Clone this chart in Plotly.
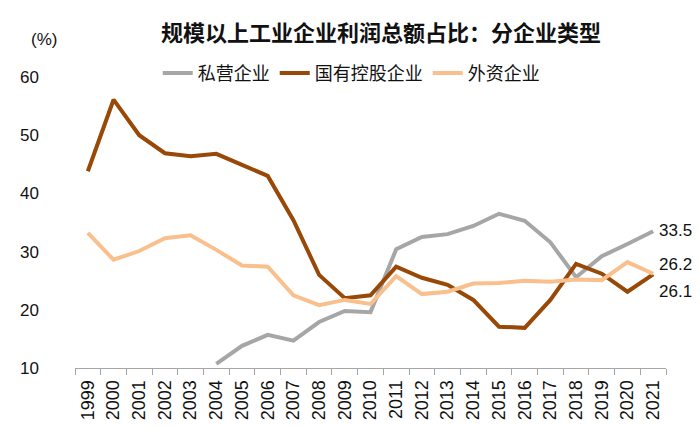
import plotly.graph_objects as go

years = [str(y) for y in range(1999, 2022)]
private = [None, None, None, None, None, 10.7, 13.8, 15.7, 14.7, 17.9, 19.8, 19.6,
           30.4, 32.5, 33.0, 34.4, 36.5, 35.3, 31.6, 25.6, 29.2, 31.3, 33.5]
state = [43.8, 56.1, 50.0, 46.9, 46.4, 46.8, 44.9, 43.0, 35.4, 26.0, 22.0, 22.5,
         27.4, 25.5, 24.3, 21.7, 17.1, 16.9, 21.7, 27.9, 26.2, 23.1, 26.1]
foreign = [33.2, 28.6, 30.1, 32.3, 32.8, 30.3, 27.6, 27.4, 22.5, 20.8, 21.7, 21.0,
           25.8, 22.7, 23.1, 24.5, 24.6, 25.0, 24.8, 25.2, 25.1, 28.2, 26.2]
names = ["私营企业", "国有控股企业", "外资企业"]
colors = ["#A6A6A6", "#984807", "#F9C08E"]
title = "规模以上工业企业利润总额占比：分企业类型"

fig = go.Figure()
for name, vals, col in zip(names, [private, state, foreign], colors):
    fig.add_trace(go.Scatter(x=years, y=vals, name=name, mode="lines",
                             line=dict(color=col, width=4), connectgaps=False))

# end labels
for val, ys in [(private[-1], 1), (foreign[-1], 9), (state[-1], -17)]:
    fig.add_annotation(xref="paper", yref="y", x=0.985, y=val, text=f"{val:.1f}",
                       showarrow=False, xanchor="left", yanchor="middle", yshift=ys,
                       font=dict(size=17, color="#111"))

fig.add_annotation(xref="paper", yref="paper", x=-0.053, y=1.129, text="(%)", showarrow=False,
                   xanchor="center", yanchor="middle", font=dict(size=17, color="#111"))

fig.update_layout(
    width=700, height=428,
    margin=dict(l=67, r=42, t=69, b=68),
    paper_bgcolor="white", plot_bgcolor="white",
    font=dict(family="Liberation Sans, Arial, Noto Sans CJK SC", color="#111"),
    title=dict(text=f"<b>{title}</b>", x=0.533, xanchor="center", y=0.942, yanchor="middle",
               font=dict(size=22, family="Noto Sans CJK SC, Liberation Sans", color="#111")),
    legend=dict(orientation="h", x=0.14, xanchor="left", y=1.013, yanchor="middle",
                font=dict(size=18, family="Noto Sans CJK SC, Liberation Sans"),
                bgcolor="rgba(0,0,0,0)", itemwidth=30, tracegroupgap=0),
    showlegend=True,
)
fig.update_xaxes(type="category", tickson="boundaries", ticks="outside", ticklen=6,
                 tickcolor="#A6A6A6", showline=True, linecolor="#A6A6A6", linewidth=1,
                 showgrid=False, tickangle=-90, tickfont=dict(size=18), ticklabelstandoff=4,
                 range=[-0.5, 22.5])
fig.update_yaxes(range=[10, 60], dtick=10, showgrid=False, showline=False, zeroline=False,
                 ticks="", ticklabelstandoff=35, tickfont=dict(size=17))

fig.write_html("out.html")
